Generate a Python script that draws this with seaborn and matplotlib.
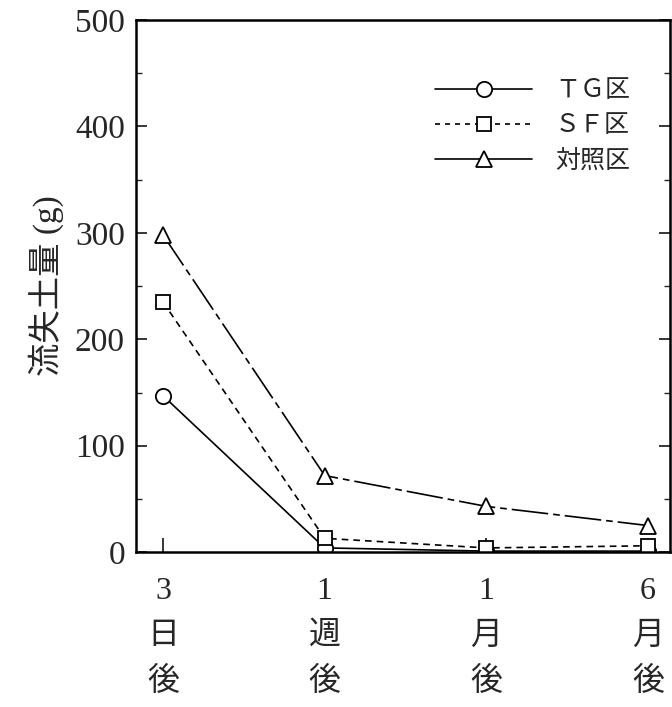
import matplotlib
matplotlib.use("Agg")
import matplotlib.pyplot as plt
import seaborn as sns
import pandas as pd
from matplotlib.lines import Line2D
from matplotlib.ticker import MultipleLocator

sns.set_theme(style="white")
plt.rcParams['font.family'] = ['Liberation Serif', 'Noto Sans CJK JP']

categories = ["3\n日\n後", "1\n週\n後", "1\n月\n後", "6\n月\n後"]
tg = [147, 4, 1, 1]
sf = [235, 13, 4, 6]
ctrl = [298, 72, 43, 25]
series_names = ["ＴＧ区", "ＳＦ区", "対照区"]

df = pd.DataFrame({
    "x": list(range(len(categories))) * 3,
    "y": tg + sf + ctrl,
    "s": [series_names[0]] * 4 + [series_names[1]] * 4 + [series_names[2]] * 4,
})

fig = plt.figure(figsize=(6.72, 7.07), dpi=100)
ax = fig.add_axes([0.2024, 0.219, 0.7946, 0.7527])

styles = {
    series_names[0]: dict(marker="o", ls="-", ms=11),
    series_names[1]: dict(marker="s", ls=(0, (4, 3)), ms=10),
    series_names[2]: dict(marker="^", ls=(0, (22, 3, 4, 3)), ms=12),
}
for name in series_names:
    st = styles[name]
    sns.lineplot(data=df[df.s == name], x="x", y="y", ax=ax, color="black",
                 lw=1.2, marker=st["marker"], markersize=st["ms"],
                 markerfacecolor="white", markeredgecolor="black",
                 markeredgewidth=1.3, linestyle=st["ls"], legend=False)

ax.set_xlim(-0.167, 3.136)
ax.set_ylim(0, 500)
ax.set_xticks(range(len(categories)))
ax.set_xticklabels(categories, fontsize=23, linespacing=1.7)
ax.yaxis.set_major_locator(MultipleLocator(100))
ax.yaxis.set_minor_locator(MultipleLocator(50))
ax.tick_params(axis="y", which="major", direction="in", length=8, width=1.3,
               labelsize=24, right=True, left=True, pad=8)
ax.tick_params(axis="y", which="minor", direction="in", length=4, width=1.0,
               right=True, left=True)
ax.tick_params(axis="x", which="major", direction="in", length=10, width=1.3,
               bottom=True, top=False, pad=18)
ax.set_xlabel("")
ax.set_ylabel("流失土量 (g)", fontsize=24, labelpad=8)
for sp in ax.spines.values():
    sp.set_color("black")
    sp.set_linewidth(1.8)

handles = [
    Line2D([], [], color="black", lw=1.2, ls="-", marker="o", ms=11,
           mfc="white", mec="black", mew=1.3),
    Line2D([], [], color="black", lw=1.2, ls=(0, (3, 3)), marker="s", ms=10,
           mfc="white", mec="black", mew=1.3),
    Line2D([], [], color="black", lw=1.2, ls="-", marker="^", ms=11,
           mfc="white", mec="black", mew=1.3),
]
ax.legend(handles, series_names, loc="upper right", frameon=False,
          fontsize=18, handlelength=3.9, handletextpad=0.9,
          labelspacing=0.5, bbox_to_anchor=(0.967, 0.93))

fig.savefig("out.png", dpi=100)
